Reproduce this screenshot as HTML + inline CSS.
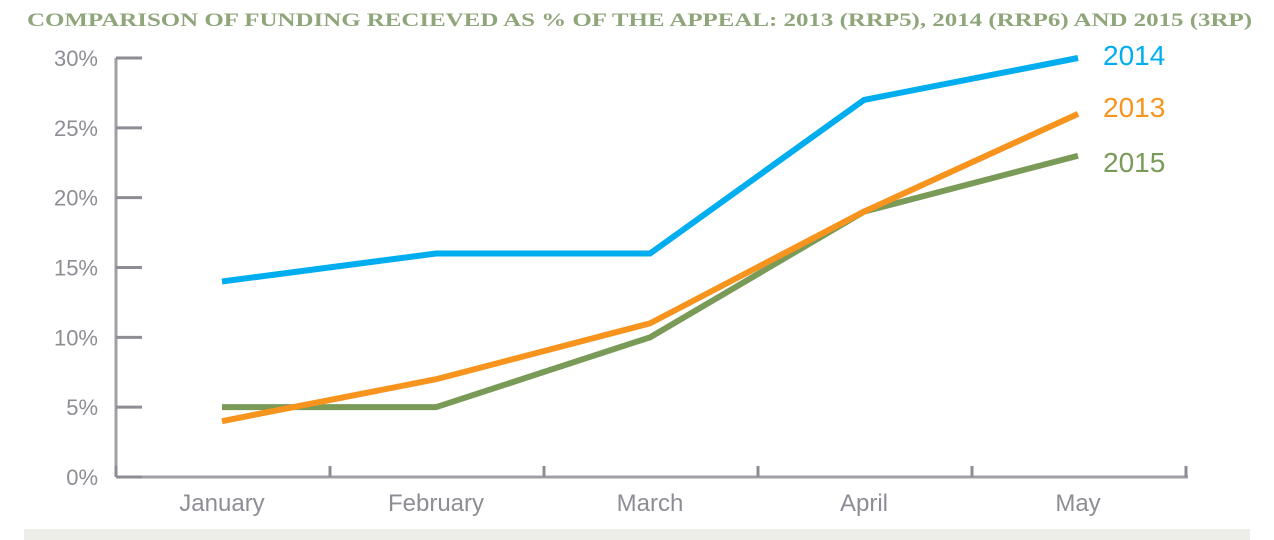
<!DOCTYPE html>
<html><head><meta charset="utf-8"><style>
body{margin:0;background:#fff;width:1274px;height:540px;overflow:hidden}
svg{display:block}
</style></head><body>
<svg width="1274" height="540">
<text x="27" y="26" font-family="Liberation Serif, serif" font-weight="bold" font-size="19" fill="#8fa57a" textLength="1225" lengthAdjust="spacingAndGlyphs">COMPARISON OF FUNDING RECIEVED AS % OF THE APPEAL: 2013 (RRP5), 2014 (RRP6) AND 2015 (3RP)</text>
<rect x="24" y="529" width="1226" height="11" fill="#eeeee8"/>
<g id="axes"></g>
<g id="series"></g>
</svg>
<script>
const months=["January","February","March","April","May"];
const yTicks=[0,5,10,15,20,25,30];
const s2013=[4,7,11,19,26];
const s2014=[14,16,16,27,30];
const s2015=[5,5,10,19,23];
const NS="http://www.w3.org/2000/svg";
const x0=116,y0=477,yTop=58,step=214;
const xs=i=>222+i*step;
const ys=v=>y0-(v/30)*(y0-yTop);
const ax=document.getElementById('axes'),sg=document.getElementById('series');
function mk(t,a,p){const e=document.createElementNS(NS,t);for(const k in a)e.setAttribute(k,a[k]);p.appendChild(e);return e;}
let e=mk('line',{x1:x0,y1:yTop,x2:x0,y2:y0,stroke:'#a09fa5','stroke-width':3},ax);


e=mk('line',{x1:x0,y1:y0,x2:1188,y2:y0,stroke:'#a09fa5','stroke-width':3},ax);


yTicks.forEach(v=>{
 const t=mk('line',{x1:x0,y1:ys(v),x2:x0+26,y2:ys(v),stroke:'#8e8d95','stroke-width':3},ax);
 
 
 const l=mk('text',{x:98,y:ys(v)+8,'text-anchor':'end','font-family':'Liberation Sans, sans-serif','font-size':22,fill:'#8e8d95'},ax);
 l.textContent=v+'%';
 
 
});
for(let i=0;i<=months.length;i++){
 const x=x0+i*step;
 const t=mk('line',{x1:x,y1:y0-11,x2:x,y2:y0,stroke:'#8e8d95','stroke-width':3},ax);
 
 
}
months.forEach((m,i)=>{
 const l=mk('text',{x:xs(i),y:511,'text-anchor':'middle','font-family':'Liberation Sans, sans-serif','font-size':24,fill:'#8e8d95'},ax);
 l.textContent=m;
 
 
});
function series(d,c,name,ly){
 const p=mk('polyline',{points:d.map((v,i)=>xs(i)+','+ys(v)).join(' '),fill:'none',stroke:c,'stroke-width':6},sg);
 
 
 const l=mk('text',{x:1103,y:ly,'font-family':'Liberation Sans, sans-serif','font-size':28,fill:c},sg);
 l.textContent=name;
 
 
}
series(s2015,'#7a9a58','2015',172);
series(s2013,'#f7941e','2013',117);
series(s2014,'#00aeef','2014',65);
</script>
</body></html>
